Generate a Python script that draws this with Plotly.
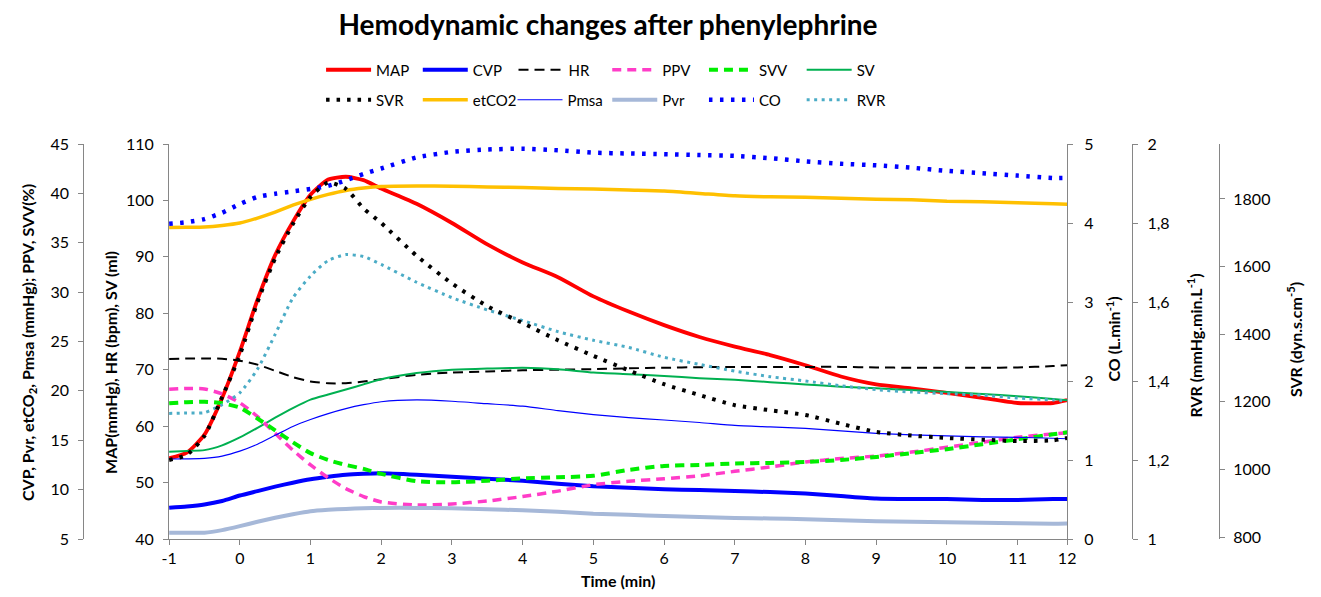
import plotly.graph_objects as go

# ---------------- data ----------------
time_min = [-1, -0.75, -0.5, -0.25, 0, 0.25, 0.5, 0.75, 1, 1.25, 1.5, 1.75, 2, 2.5, 3, 3.5, 4,
            4.5, 5, 5.5, 6, 6.5, 7, 7.5, 8, 8.5, 9, 9.5, 10, 10.5, 11, 11.5, 11.7]

# inner left axis: MAP (mmHg), HR (bpm), SV (ml)
MAP = [54.3, 55.3, 58.5, 65.0, 73.2, 82.4, 90.3, 96.2, 101.0, 103.7, 104.2, 103.6, 102.1, 99.4, 96.0,
       92.2, 89.0, 86.4, 83.0, 80.3, 77.9, 75.8, 74.1, 72.6, 70.8, 68.8, 67.4, 66.7, 65.9, 65.0, 64.1,
       64.1, 64.6]
HR = [71.9, 72.0, 72.0, 71.95, 71.6, 70.9, 69.8, 68.7, 67.9, 67.6, 67.6, 67.9, 68.3, 69.1, 69.5, 69.7,
      69.9, 70.0, 70.1, 70.25, 70.35, 70.45, 70.5, 70.5, 70.5, 70.5, 70.4, 70.35, 70.35, 70.35, 70.4,
      70.65, 70.8]
SV = [55.47, 55.6, 55.75, 56.6, 58.0, 59.7, 61.5, 63.2, 64.7, 65.6, 66.5, 67.4, 68.3, 69.4, 70.0, 70.2,
      70.35, 70.1, 69.5, 69.2, 68.9, 68.5, 68.2, 67.8, 67.4, 67.0, 66.7, 66.4, 66.05, 65.7, 65.3, 64.8,
      64.6]

# outer left axis: CVP, Pvr, etCO2, Pmsa (mmHg); PPV, SVV (%)
CVP = [8.17, 8.3, 8.5, 8.85, 9.4, 9.85, 10.3, 10.7, 11.05, 11.3, 11.5, 11.6, 11.65, 11.5, 11.3, 11.1,
       10.9, 10.6, 10.35, 10.2, 10.05, 9.95, 9.85, 9.75, 9.6, 9.35, 9.1, 9.05, 9.05, 8.95, 8.95, 9.05,
       9.05]
PPV = [20.16, 20.25, 20.2, 19.7, 18.8, 17.4, 15.7, 14.0, 12.5, 11.2, 10.1, 9.3, 8.75, 8.44, 8.55, 8.85,
       9.3, 9.85, 10.5, 10.85, 11.1, 11.4, 11.85, 12.3, 12.8, 13.15, 13.4, 13.8, 14.3, 14.8, 15.3, 15.65,
       15.75]
SVV = [18.74, 18.85, 18.9, 18.75, 18.3, 17.2, 16.0, 14.8, 13.7, 13.0, 12.5, 12.1, 11.6, 10.85, 10.74,
       10.9, 11.15, 11.25, 11.4, 12.0, 12.4, 12.5, 12.65, 12.7, 12.8, 13.0, 13.3, 13.7, 14.1, 14.6, 15.1,
       15.6, 15.8]
etCO2 = [36.55, 36.57, 36.6, 36.75, 37.0, 37.5, 38.1, 38.8, 39.4, 39.9, 40.3, 40.55, 40.7, 40.75, 40.72,
         40.65, 40.6, 40.5, 40.45, 40.35, 40.25, 40.0, 39.75, 39.65, 39.6, 39.5, 39.4, 39.35, 39.2, 39.15,
         39.05, 38.95, 38.9]
Pmsa = [13.1, 13.12, 13.17, 13.4, 13.9, 14.6, 15.5, 16.4, 17.1, 17.7, 18.2, 18.6, 18.9, 19.08, 18.95,
        18.7, 18.45, 18.0, 17.6, 17.3, 17.05, 16.8, 16.5, 16.35, 16.2, 15.95, 15.7, 15.55, 15.45, 15.35,
        15.3, 15.2, 15.15]
Pvr = [5.64, 5.64, 5.64, 5.9, 6.3, 6.75, 7.15, 7.5, 7.8, 7.95, 8.05, 8.12, 8.15, 8.15, 8.12, 8.02, 7.9,
       7.75, 7.55, 7.45, 7.33, 7.22, 7.13, 7.08, 7.0, 6.9, 6.8, 6.75, 6.7, 6.65, 6.6, 6.55, 6.57]

# CO (L/min)
CO = [3.99, 4.01, 4.05, 4.13, 4.24, 4.33, 4.37, 4.40, 4.43, 4.47, 4.54, 4.62, 4.69, 4.83, 4.90, 4.93,
      4.94, 4.92, 4.89, 4.88, 4.87, 4.86, 4.85, 4.82, 4.78, 4.75, 4.73, 4.70, 4.66, 4.63, 4.60, 4.57,
      4.57]
# RVR (mmHg.min/L)
RVR = [1.318, 1.319, 1.320, 1.34, 1.37, 1.43, 1.518, 1.61, 1.666, 1.705, 1.72, 1.715, 1.695, 1.65,
       1.611, 1.58, 1.553, 1.525, 1.503, 1.485, 1.46, 1.442, 1.425, 1.411, 1.40, 1.388, 1.378, 1.372,
       1.368, 1.364, 1.357, 1.352, 1.349]
# SVR (dyn.s.cm-5)
SVR = [1028, 1043, 1099, 1214, 1338, 1495, 1625, 1726, 1806, 1849, 1830, 1772, 1729, 1632, 1550, 1483,
       1433, 1382, 1336, 1293, 1252, 1220, 1190, 1175, 1161, 1135, 1111, 1100, 1093, 1088, 1084, 1086,
       1093]

x_tickvals = [-1, 0, 1, 2, 3, 4, 5, 6, 7, 8, 9, 10, 11, 11.7]
x_ticktext = ["-1", "0", "1", "2", "3", "4", "5", "6", "7", "8", "9", "10", "11", "12"]
rvr_tickvals = [1, 1.2, 1.4, 1.6, 1.8, 2]
rvr_ticktext = ["1", "1,2", "1,4", "1,6", "1,8", "2"]

# ---------------- geometry (page body has an 8px margin) ----------------
OFF = 8
W, H = 1321 - OFF, 597 - OFF
ML, MR = 10, 10
MT = 144 - OFF
MB = H - (539 - OFF)
PW = W - ML - MR
PH = H - MT - MB


def px_x(p):
    return (p - OFF - ML) / PW


def px_y(p):
    return 1 - (p - OFF - MT) / PH


FONT = "Lato"
AX = "#868686"

fig = go.Figure()

# legend text start positions (reference pixels)
row1_y, row2_y = 70, 100
leg_pos = {
    "MAP": (372, row1_y), "CVP": (470, row1_y), "HR": (567, row1_y),
    "PPV": (662, row1_y), "SVV": (760, row1_y), "SV": (859, row1_y),
    "SVR": (372, row2_y), "etCO2": (470, row2_y), "Pmsa": (566, row2_y),
    "Pvr": (662, row2_y), "CO": (760, row2_y), "RVR": (859, row2_y),
}
ITEMW = 45
legends = {}


def add(name, y, axis, color, width, dash=None):
    lid = "legend" if not legends else "legend%d" % (len(legends) + 1)
    tx, ty = leg_pos[name]
    legends[lid] = dict(orientation="h", x=px_x(tx - ITEMW - 10), y=px_y(ty),
                        xanchor="left", yanchor="middle", itemwidth=ITEMW,
                        font=dict(family=FONT, size=15, color="#000000"),
                        bgcolor="rgba(0,0,0,0)", borderwidth=0)
    fig.add_trace(go.Scatter(
        x=time_min, y=y, name=name, yaxis=axis, mode="lines",
        line=dict(color=color, width=width, dash=dash, shape="spline", smoothing=0.6),
        legend=lid, hoverinfo="x+y+name"))


add("MAP", MAP, "y", "#FF0000", 3.8)
add("CVP", CVP, "y2", "#0000FF", 4)
add("HR", HR, "y", "#000000", 2, "10px,6px")
add("PPV", PPV, "y2", "#FF3CC8", 3.5, "9px,6px")
add("SVV", SVV, "y2", "#00EE00", 4, "9px,6px")
add("SV", SV, "y", "#00B050", 2)
add("SVR", SVR, "y5", "#000000", 4, "3.5px,7px")
add("etCO2", etCO2, "y2", "#FFC000", 3.5)
add("Pmsa", Pmsa, "y2", "#0000FF", 1.2)
add("Pvr", Pvr, "y2", "#A6B8D8", 4)
add("CO", CO, "y3", "#0000FF", 4.5, "3.5px,7.5px")
add("RVR", RVR, "y4", "#4BACC6", 3, "3px,4.5px")

tickfont = dict(family=FONT, size=16, color="#000000")
common = dict(showline=True, linecolor=AX, linewidth=1, ticks="outside", ticklen=5,
              tickcolor=AX, showgrid=False, zeroline=False, tickfont=tickfont, fixedrange=True)

x0, x1 = px_x(163), px_x(1073)

fig.update_layout(
    width=W, height=H,
    margin=dict(l=ML, r=MR, t=MT, b=MB),
    paper_bgcolor="white", plot_bgcolor="white",
    font=dict(family=FONT, color="#000000"),
    title=dict(text="<b>Hemodynamic changes after phenylephrine</b>",
               x=(608 - OFF) / W, y=1 - (25 - OFF) / H, xanchor="center", yanchor="middle",
               pad=dict(t=0, b=0, l=0, r=0),
               font=dict(family=FONT, size=28, color="#000000")),
    xaxis=dict(domain=[x0, x1], range=[-1, 11.7], tickvals=x_tickvals, ticktext=x_ticktext,
               **common),
    yaxis=dict(range=[40, 110], dtick=10, side="left", anchor="x", ticklabelstandoff=6, **common),
    yaxis2=dict(range=[5, 45], dtick=5, side="left", overlaying="y", anchor="free",
                position=px_x(76), ticklabelstandoff=6, **common),
    yaxis3=dict(range=[0, 5], dtick=1, side="right", overlaying="y", anchor="x",
                ticklabelstandoff=8, **common),
    yaxis4=dict(range=[1, 2], tickvals=rvr_tickvals, ticktext=rvr_ticktext, side="right",
                overlaying="y", anchor="free", position=px_x(1139), ticklabelstandoff=6, **common),
    yaxis5=dict(range=[794.1, 1962.7], tickvals=[800, 1000, 1200, 1400, 1600, 1800], side="right",
                overlaying="y", anchor="free", position=px_x(1227), ticklabelstandoff=5, **common),
    showlegend=True,
    **legends,
)

title_font = dict(family=FONT, size=16, color="#000000")
annots = [
    ("<b>CVP, Pvr, etCO<sub>2</sub>, Pmsa (mmHg); PPV, SVV(%)</b>", 20, 342),
    ("<b>MAP(mmHg), HR (bpm), SV (ml)</b>", 103, 362),
    ("<b>CO (L.min<sup>-1</sup>)</b>", 1119, 339),
    ("<b>RVR (mmHg.min.L<sup>-1</sup>)</b>", 1202, 345),
    ("<b>SVR (dyn.s.cm<sup>-5</sup>)</b>", 1303, 340),
]
for text, ax_, ay_ in annots:
    fig.add_annotation(text=text, x=px_x(ax_), y=px_y(ay_), xref="paper", yref="paper",
                       textangle=-90, showarrow=False, xanchor="center", yanchor="middle",
                       font=title_font)
fig.add_annotation(text="<b>Time (min)</b>", x=px_x(618), y=px_y(580), xref="paper", yref="paper",
                   showarrow=False, xanchor="center", yanchor="middle",
                   font=dict(family=FONT, size=16, color="#000000"))

fig.write_html("out.html")
